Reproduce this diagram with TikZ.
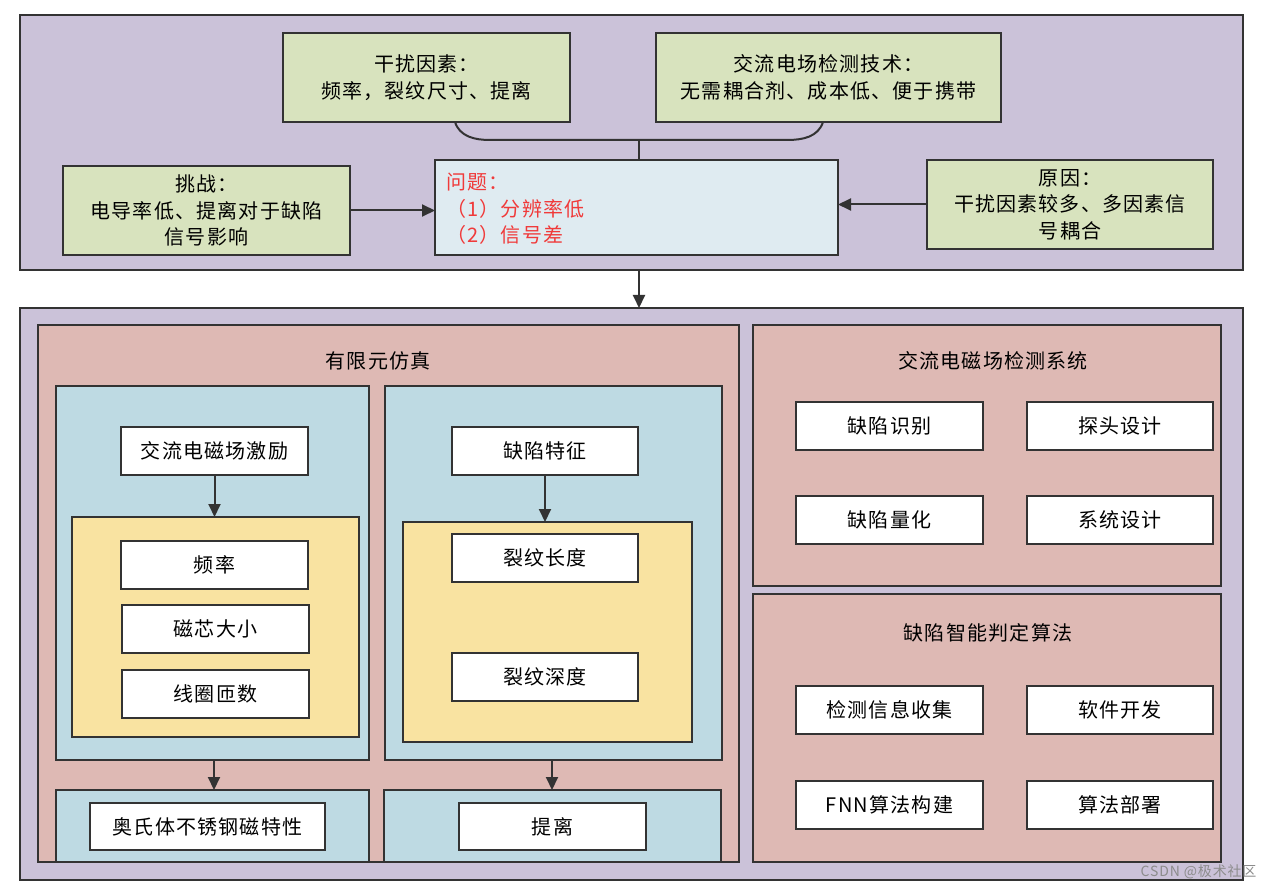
\documentclass[tikz,border=0pt]{standalone}
\usepackage{fontspec}
\setmainfont{Noto Sans CJK SC}[LetterSpace=6]
\usetikzlibrary{arrows.meta,shadows}
\definecolor{cpurple}{HTML}{CBC2D9}
\definecolor{cgreen}{HTML}{D8E3BE}
\definecolor{cqblue}{HTML}{DFEBF1}
\definecolor{csalmon}{HTML}{DEB9B4}
\definecolor{cblue}{HTML}{BEDAE3}
\definecolor{cyellow}{HTML}{F9E3A1}
\definecolor{cline}{HTML}{333333}
\definecolor{cred}{HTML}{F03A3A}
\tikzset{
  frame/.style={draw=cline, line width=1.9pt, inner sep=0pt, outer sep=0pt,
    drop shadow={shadow xshift=1.4pt, shadow yshift=-1.4pt, opacity=0.3}},
  outerbox/.style={frame, fill=cpurple},
  greenbox/.style={frame, fill=cgreen, align=center},
  qbox/.style={frame, fill=cqblue},
  salmonbox/.style={frame, fill=csalmon},
  bluebox/.style={frame, fill=cblue},
  yellowbox/.style={frame, fill=cyellow},
  whitebox/.style={frame, fill=white},
  titletext/.style={inner sep=0pt},
  qtext/.style={inner sep=0pt, align=left, text=cred, anchor=west},
  conn/.style={draw=cline, line width=2pt},
  arr/.style={conn, -{Triangle[length=13pt,width=12pt]}},
  every node/.append style={font=\fontsize{20}{26.5}\selectfont}
}
% \bx{name}{style}{x1}{y1}{x2}{y2}{text}
\newcommand\bx[7]{\node[#2, minimum width={(#5)-(#3)}, minimum height={(#6)-(#4)}]
  (#1) at ({((#3)+(#5))/2},{((#4)+(#6))/2}) {#7};}
\begin{document}
\begin{tikzpicture}[x=1pt,y=-1pt]
\useasboundingbox (0,0) rectangle (1274,890);
\fill[white] (0,0) rectangle (1274,890);

% ---------- top block ----------
\bx{top}{outerbox}{20}{15}{1243}{270}{}
\bx{g1}{greenbox}{283}{33}{570}{122}{干扰因素：\\频率，裂纹尺寸、提离}
\bx{g2}{greenbox}{656}{33}{1001}{122}{交流电场检测技术：\\无需耦合剂、成本低、便于携带}
\bx{ch}{greenbox}{63}{166}{350}{255}{挑战：\\电导率低、提离对于缺陷\\信号影响}
\bx{pb}{qbox}{435}{160}{838}{255}{}
\node[qtext] (pbt) at (446,209) {问题：\\（1）分辨率低\\（2）信号差};
\bx{rs}{greenbox}{927}{160}{1213}{249}{原因：\\干扰因素较多、多因素信\\号耦合}

\coordinate (jl) at (490,140);
\coordinate (jr) at (787,140);
\coordinate (jx) at (639,0);
\coordinate (jm) at (jx |- jl);
\draw[conn] ([xshift=28.5pt]g1.south) to[out=-72,in=180] (jl) -- (jr)
  to[out=0,in=-108] ([xshift=-5.5pt]g2.south);
\draw[conn] (jm) -- (jx |- pb.north);
\draw[arr] (ch.east) -- (ch.east -| pb.west);
\draw[arr] (rs.west) -- (rs.west -| pb.east);

% ---------- bottom block ----------
\bx{bot}{outerbox}{20}{308}{1243}{880}{}
\draw[arr] (jx |- top.south) -- (jx |- bot.north);

% FEM block
\bx{fem}{salmonbox}{38}{325}{739}{862}{}
\node[titletext] (femt) at (378,361) {有限元仿真};

\bx{bl}{bluebox}{56}{386}{369}{760}{}
\bx{exc}{whitebox}{121}{427}{308}{475}{交流电磁场激励}
\bx{yl}{yellowbox}{72}{517}{359}{737}{}
\bx{f1}{whitebox}{121}{541}{308}{589}{频率}
\bx{f2}{whitebox}{122}{605}{309}{653}{磁芯大小}
\bx{f3}{whitebox}{122}{670}{309}{718}{线圈匝数}
\draw[arr] (exc.south) -- (exc.south |- yl.north);

\bx{br}{bluebox}{385}{386}{722}{760}{}
\bx{dft}{whitebox}{452}{427}{638}{475}{缺陷特征}
\bx{yr}{yellowbox}{403}{522}{692}{742}{}
\bx{d1}{whitebox}{452}{534}{638}{582}{裂纹长度}
\bx{d2}{whitebox}{452}{653}{638}{701}{裂纹深度}
\draw[arr] (dft.south) -- (dft.south |- yr.north);

\bx{bbl}{bluebox}{56}{790}{369}{862}{}
\bx{mag}{whitebox}{90}{803}{325}{850}{奥氏体不锈钢磁特性}
\bx{bbr}{bluebox}{384}{790}{721}{862}{}
\bx{lift}{whitebox}{459}{803}{646}{850}{提离}
\coordinate (al) at (214,0);
\coordinate (ar) at (552,0);
\draw[arr] (al |- bl.south) -- (al |- bbl.north);
\draw[arr] (ar |- br.south) -- (ar |- bbr.north);
\draw[conn] (fem.south west) -- (fem.south east);

% ACFM system
\bx{sys}{salmonbox}{753}{325}{1221}{586}{}
\node[titletext] (syst) at (993,361) {交流电磁场检测系统};
\bx{s1}{whitebox}{796}{402}{983}{450}{缺陷识别}
\bx{s2}{whitebox}{1027}{402}{1213}{450}{探头设计}
\bx{s3}{whitebox}{796}{496}{983}{544}{缺陷量化}
\bx{s4}{whitebox}{1027}{496}{1213}{544}{系统设计}

% algorithm
\bx{alg}{salmonbox}{753}{594}{1221}{862}{}
\node[titletext] (algt) at (988,633) {缺陷智能判定算法};
\bx{a1}{whitebox}{796}{686}{983}{734}{检测信息收集}
\bx{a2}{whitebox}{1027}{686}{1213}{734}{软件开发}
\bx{a3}{whitebox}{796}{781}{983}{829}{FNN算法构建}
\bx{a4}{whitebox}{1027}{781}{1213}{829}{算法部署}

% watermark
\node[text=black!45, font=\fontsize{14}{16}\selectfont, anchor=east] (wm) at (1260,872) {CSDN @极术社区};
\end{tikzpicture}
\end{document}
